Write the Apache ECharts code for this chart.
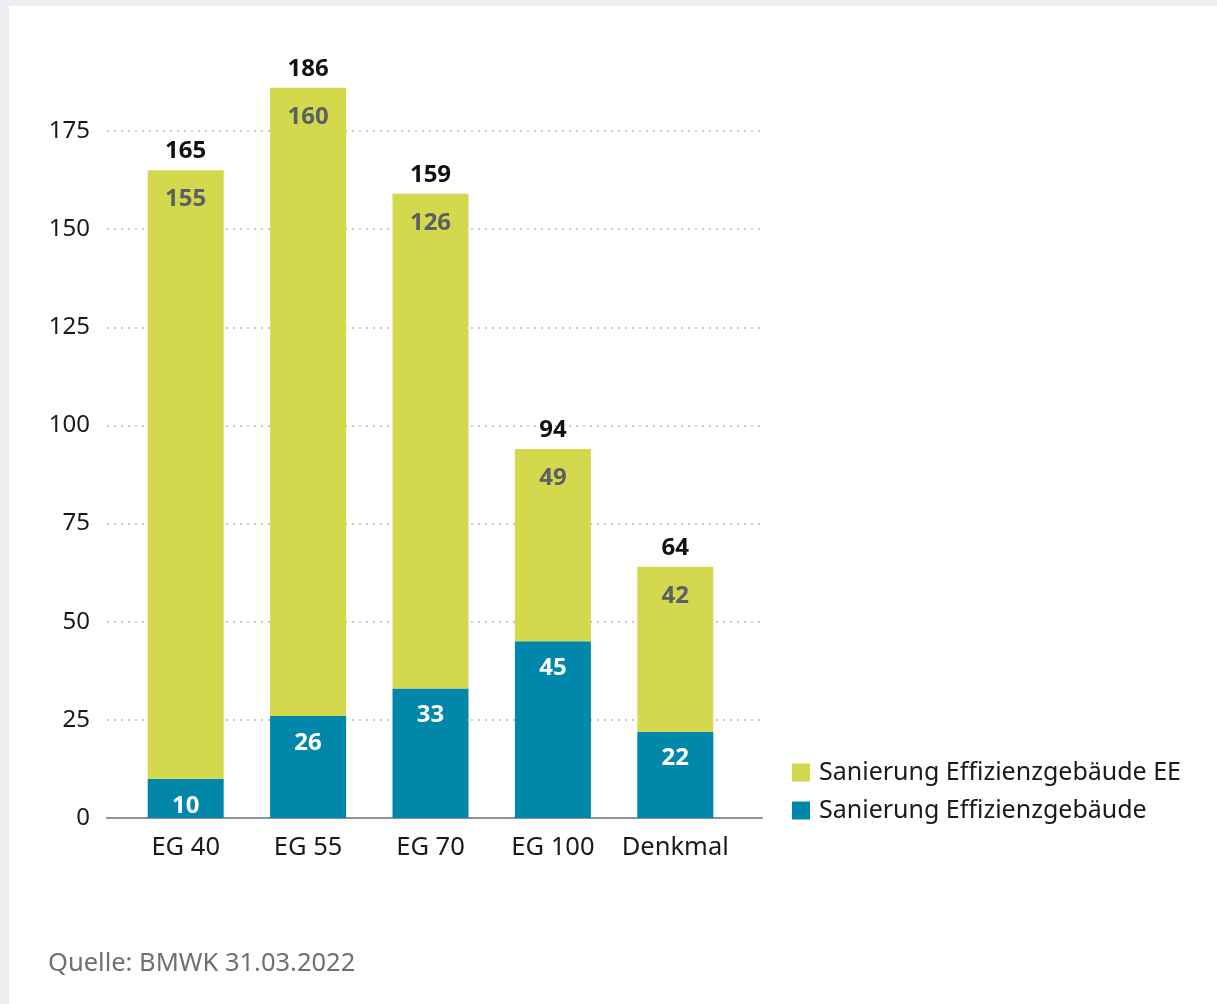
<!DOCTYPE html>
<html>
<head>
<meta charset="utf-8">
<script src="https://cdn.jsdelivr.net/npm/echarts@6/dist/echarts.min.js"></script>
<style>
html,body{margin:0;padding:0;background:#eceef2;width:1217px;height:1004px;overflow:hidden;}
#panel{position:absolute;left:9px;top:6px;width:1208px;height:998px;background:#ffffff;}
#chart{position:absolute;left:0;top:0;width:1217px;height:1004px;}
</style>
</head>
<body>
<div id="panel"></div>
<div id="chart"></div>
<script>
const categories = ['EG 40', 'EG 55', 'EG 70', 'EG 100', 'Denkmal'];
const effizienz = [10, 26, 33, 45, 22];
const effizienzEE = [155, 160, 126, 49, 42];
const totals = [165, 186, 159, 94, 64];
const yTicks = [0, 25, 50, 75, 100, 125, 150, 175];
const seriesNames = ['Sanierung Effizienzgebäude', 'Sanierung Effizienzgebäude EE'];
const sourceText = 'Quelle: BMWK 31.03.2022';

const FONT = '"Noto Sans", "Open Sans", sans-serif';
const chart = echarts.init(document.getElementById('chart'), null, {renderer: 'canvas'});

const option = {
  backgroundColor: 'transparent',
  animation: false,
  textStyle: {fontFamily: FONT},
  grid: [
    {left: 107, right: 455, top: 131, bottom: 186},
    {left: 124.5, right: 480.5, top: 131, bottom: 186}
  ],
  xAxis: [
    {
      gridIndex: 0, type: 'value', min: 0, max: 1,
      axisLine: {show: true, lineStyle: {color: '#8c949b', width: 2}},
      axisTick: {show: false}, axisLabel: {show: false}, splitLine: {show: false}
    },
    {
      gridIndex: 1, type: 'category', data: categories,
      axisLine: {show: false}, axisTick: {show: false},
      axisLabel: {color: '#1a1a1a', fontSize: 25.5, fontFamily: FONT, margin: 17,
                  interval: 0, hideOverlap: false}
    }
  ],
  yAxis: [
    {
      gridIndex: 0, type: 'value', min: yTicks[0], max: yTicks[yTicks.length - 1], interval: 25,
      axisLine: {show: false}, axisTick: {show: false},
      axisLabel: {color: '#1a1a1a', fontSize: 24, fontFamily: FONT, margin: 17},
      splitLine: {show: true, lineStyle: {color: '#b3bac4', type: [2, 5], width: 1.5}}
    },
    {
      gridIndex: 1, type: 'value', min: yTicks[0], max: yTicks[yTicks.length - 1], interval: 25,
      show: false, splitLine: {show: false}
    }
  ],
  legend: {
    orient: 'vertical', left: 787, top: 755,
    data: [seriesNames[1], seriesNames[0]],
    icon: 'rect', itemWidth: 18, itemHeight: 18, itemGap: 13,
    textStyle: {fontSize: 25, color: '#1a1a1a', fontFamily: FONT, padding: [0, 0, 0, 4]}
  },
  series: [
    {
      name: seriesNames[0], type: 'bar', stack: 'a', xAxisIndex: 1, yAxisIndex: 1,
      data: effizienz, barWidth: 76, clip: false,
      itemStyle: {color: '#0087a9'},
      label: {show: true, position: 'insideTop', distance: 15, color: '#ffffff',
              fontWeight: 'bold', fontSize: 24, fontFamily: FONT}
    },
    {
      name: seriesNames[1], type: 'bar', stack: 'a', xAxisIndex: 1, yAxisIndex: 1,
      data: effizienzEE, barWidth: 76, clip: false,
      itemStyle: {color: '#d4d84c'},
      label: {show: true, position: 'insideTop', distance: 17, color: '#5b6065',
              fontWeight: 'bold', fontSize: 24, fontFamily: FONT}
    },
    {
      name: 'Gesamt', type: 'bar', stack: 'a', xAxisIndex: 1, yAxisIndex: 1,
      data: totals.map(() => 0), barWidth: 76, clip: false,
      itemStyle: {color: 'transparent'},
      label: {show: true, position: 'top', distance: 7, color: '#111111',
              fontWeight: 'bold', fontSize: 24, fontFamily: FONT,
              formatter: p => String(totals[p.dataIndex])}
    }
  ],
  graphic: [
    {type: 'text', left: 48, top: 951,
     style: {text: sourceText, fontSize: 25.5, fill: '#6b7177', fontFamily: FONT}}
  ]
};
chart.setOption(option);
</script>
</body>
</html>
